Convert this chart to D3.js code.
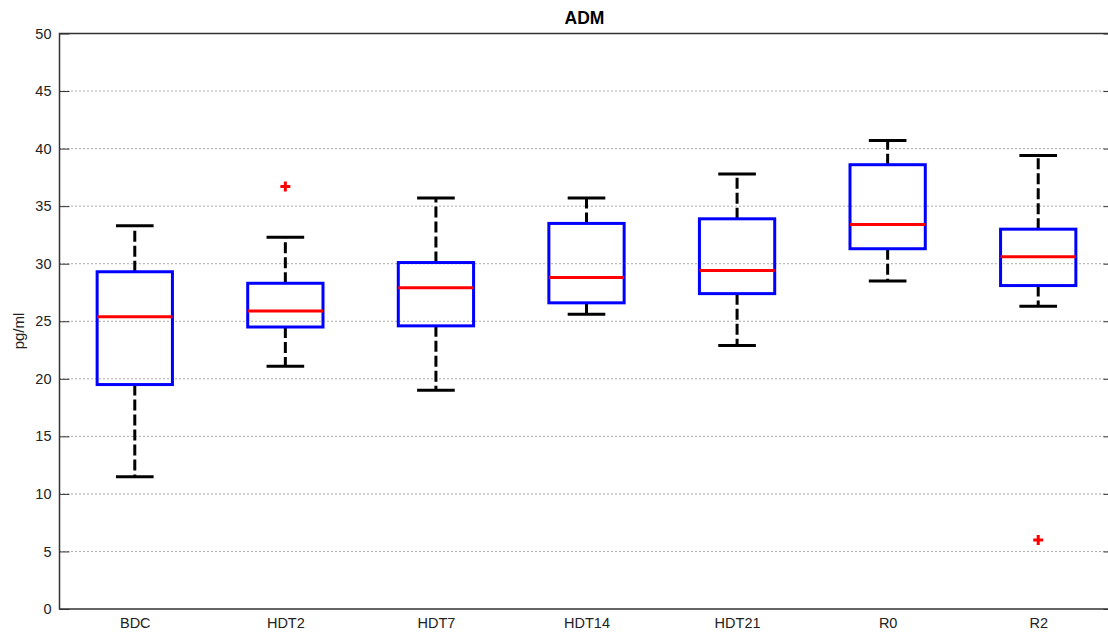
<!DOCTYPE html>
<html>
<head>
<meta charset="utf-8">
<script src="https://cdn.jsdelivr.net/npm/d3@7"></script>
<style>
  body { margin: 0; background: #fff; }
  text { font-family: "Liberation Sans", Arial, sans-serif; }
</style>
</head>
<body>
<svg id="chart" width="1108" height="635"></svg>
<script>
// data
const groups = ['BDC', 'HDT2', 'HDT7', 'HDT14', 'HDT21', 'R0', 'R2'];
const lowerWhisker = [11.5, 21.1, 19.0, 25.6, 22.9, 28.5, 26.3];
const q1 = [19.5, 24.5, 24.6, 26.6, 27.4, 31.3, 28.1];
const median = [25.4, 25.9, 27.9, 28.8, 29.4, 33.4, 30.6];
const q3 = [29.3, 28.3, 30.1, 33.5, 33.9, 38.6, 33.0];
const upperWhisker = [33.3, 32.3, 35.7, 35.7, 37.8, 40.7, 39.4];
const outliers = [[], [36.7], [], [], [], [], [6.0]];
const yTicks = [0, 5, 10, 15, 20, 25, 30, 35, 40, 45, 50];

const margin = { top: 33.5, left: 59.5, right: -5.5, bottom: 26 };
const W = 1108, H = 635;
const width = W - margin.left - margin.right;
const height = H - margin.top - margin.bottom;

const svg = d3.select('#chart');
const g = svg.append('g').attr('transform', 'translate(' + margin.left + ',' + margin.top + ')');

const x = d3.scaleLinear().domain([0.5, groups.length + 0.5]).range([0, width]);
const y = d3.scaleLinear().domain([0, 50]).range([height, 0]);

// grid lines
g.selectAll('.grid')
  .data(yTicks.filter(d => d > 0 && d < 50))
  .enter().append('line')
  .attr('x1', 0).attr('x2', width)
  .attr('y1', d => y(d)).attr('y2', d => y(d))
  .attr('stroke', '#555').attr('stroke-width', 1)
  .attr('stroke-dasharray', '1,3');

// axes (ticks inward)
g.append('g')
  .call(d3.axisLeft(y).tickValues(yTicks).tickSize(-10).tickPadding(8))
  .call(a => a.select('.domain').remove())
  .call(a => a.selectAll('line').attr('stroke', '#333'))
  .call(a => a.selectAll('text').attr('font-size', 14.5).attr('fill', '#222'));

g.append('g')
  .attr('transform', 'translate(' + width + ',0)')
  .call(d3.axisRight(y).tickValues(yTicks).tickSize(-10).tickFormat(''))
  .call(a => a.select('.domain').remove())
  .call(a => a.selectAll('line').attr('stroke', '#333'));

g.append('g')
  .attr('transform', 'translate(0,' + height + ')')
  .call(d3.axisBottom(x).tickValues(d3.range(1, groups.length + 1))
    .tickFormat(i => groups[i - 1]).tickSize(0).tickPadding(9))
  .call(a => a.select('.domain').remove())
  .call(a => a.selectAll('text').attr('font-size', 14.5).attr('fill', '#222'));

g.append('rect')
  .attr('x', 0).attr('y', 0).attr('width', width).attr('height', height)
  .attr('fill', 'none').attr('stroke', '#333').attr('stroke-width', 1.5);

// boxes
const half = x(1.25) - x(1);
const capHalf = x(1.125) - x(1);
const box = g.selectAll('.box')
  .data(groups.map((name, i) => ({ name, i })))
  .enter().append('g').attr('class', 'box');

box.append('line')
  .attr('x1', d => x(d.i + 1)).attr('x2', d => x(d.i + 1))
  .attr('y1', d => y(q3[d.i])).attr('y2', d => y(upperWhisker[d.i]))
  .attr('stroke', '#000').attr('stroke-width', 3).attr('stroke-dasharray', '11,4');
box.append('line')
  .attr('x1', d => x(d.i + 1)).attr('x2', d => x(d.i + 1))
  .attr('y1', d => y(q1[d.i])).attr('y2', d => y(lowerWhisker[d.i]))
  .attr('stroke', '#000').attr('stroke-width', 3).attr('stroke-dasharray', '11,4');

box.append('line')
  .attr('x1', d => x(d.i + 1) - capHalf).attr('x2', d => x(d.i + 1) + capHalf)
  .attr('y1', d => y(upperWhisker[d.i])).attr('y2', d => y(upperWhisker[d.i]))
  .attr('stroke', '#000').attr('stroke-width', 3);
box.append('line')
  .attr('x1', d => x(d.i + 1) - capHalf).attr('x2', d => x(d.i + 1) + capHalf)
  .attr('y1', d => y(lowerWhisker[d.i])).attr('y2', d => y(lowerWhisker[d.i]))
  .attr('stroke', '#000').attr('stroke-width', 3);

box.append('rect')
  .attr('x', d => x(d.i + 1) - half)
  .attr('y', d => y(q3[d.i]))
  .attr('width', half * 2)
  .attr('height', d => y(q1[d.i]) - y(q3[d.i]))
  .attr('fill', 'none').attr('stroke', '#0000ff').attr('stroke-width', 3);

box.append('line')
  .attr('x1', d => x(d.i + 1) - half).attr('x2', d => x(d.i + 1) + half)
  .attr('y1', d => y(median[d.i])).attr('y2', d => y(median[d.i]))
  .attr('stroke', '#ff0000').attr('stroke-width', 3);

// outliers as red plus signs
box.selectAll('.out')
  .data(d => outliers[d.i].map(v => ({ v, i: d.i })))
  .enter().append('path')
  .attr('d', d => {
    const cx = x(d.i + 1), cy = y(d.v);
    return 'M' + (cx - 5) + ',' + cy + 'H' + (cx + 5) + 'M' + cx + ',' + (cy - 5) + 'V' + (cy + 5);
  })
  .attr('stroke', '#ff0000').attr('stroke-width', 3);

// title and y label
svg.append('text')
  .attr('x', margin.left + width / 2 - 2).attr('y', 24)
  .attr('text-anchor', 'middle').attr('font-size', 17.5).attr('font-weight', 'bold')
  .text('ADM');

svg.append('text')
  .attr('transform', 'translate(24,' + 331 + ') rotate(-90)')
  .attr('text-anchor', 'middle').attr('font-size', 15).attr('fill', '#222')
  .text('pg/ml');
</script>
</body>
</html>
